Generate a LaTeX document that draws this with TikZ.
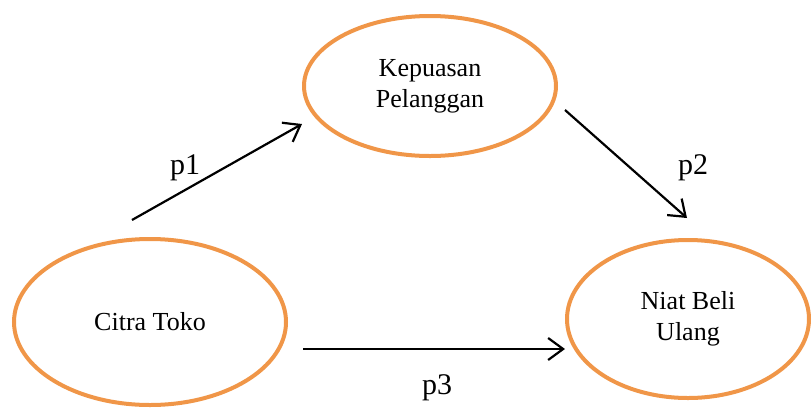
\documentclass[tikz,border=0pt]{standalone}
\usepackage{fontspec}
\setmainfont{Liberation Serif}
\usetikzlibrary{arrows.meta,shapes.geometric}
\definecolor{ellcol}{RGB}{240,150,72}
\begin{document}
\begin{tikzpicture}[x=1pt,y=-1pt,
  construct/.style={draw=ellcol,line width=4pt,ellipse,inner sep=0pt,align=center,
    font=\fontsize{26}{31}\selectfont},
  link/.style={-{Straight Barb[length=15pt,width=22pt]},line width=2.2pt},
  plabel/.style={font=\fontsize{30}{36}\selectfont,inner sep=0pt}]
\useasboundingbox (0,0) rectangle (812,408);
\node[construct,minimum width=252pt,minimum height=140pt] (kep) at (430,86) {Kepuasan\\Pelanggan};
\node[construct,minimum width=272pt,minimum height=166pt] (citra) at (150,322) {Citra Toko};
\node[construct,minimum width=242pt,minimum height=158pt] (niat) at (688,319) {Niat Beli\\Ulang};
\coordinate (a1s) at (132,220);
\coordinate (a1e) at (302,124);
\coordinate (a2s) at (565,110);
\coordinate (a2e) at (687,218);
\coordinate (a3s) at (303,349);
\coordinate (a3e) at (565,349);
\draw[link] (a1s) -- (a1e);
\draw[link] (a2s) -- (a2e);
\draw[link] (a3s) -- (a3e);
\node[plabel] (p1) at (185,168) {p1};
\node[plabel] (p2) at (693,168) {p2};
\node[plabel] (p3) at (437,388) {p3};
\end{tikzpicture}
\end{document}
